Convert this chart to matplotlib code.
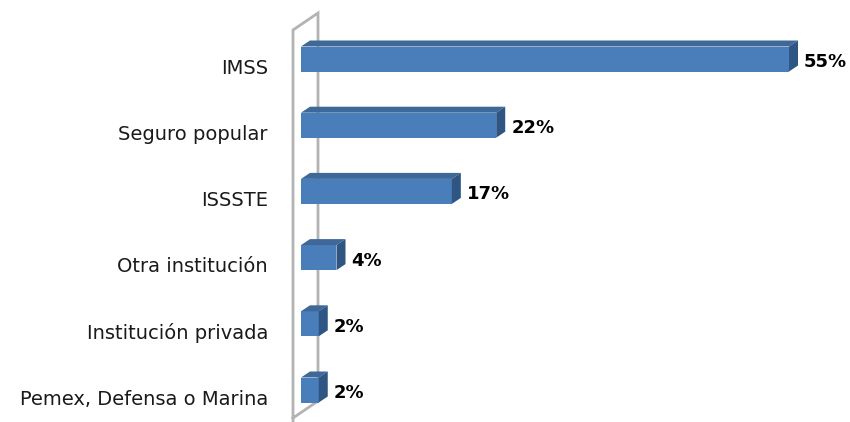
import matplotlib.pyplot as plt
from matplotlib.patches import Polygon

# data
categories = ["IMSS", "Seguro popular", "ISSSTE", "Otra institución",
              "Institución privada", "Pemex, Defensa o Marina"]
values = [55, 22, 17, 4, 2, 2]
value_labels = ["55%", "22%", "17%", "4%", "2%", "2%"]

W, H = 850, 422
X0_PX = 301          # pixel where value 0 sits
PX_PER_PCT = 8.873   # horizontal scale
Y0_PX = 59           # centre of first bar
PX_PER_ROW = 66.2    # row spacing

FRONT = "#4a7ebb"
TOP = "#3d6898"
SIDE = "#2f5582"
WALL = "#b3b3b3"

plt.rcParams["font.family"] = ["DejaVu Sans"]

fig = plt.figure(figsize=(W / 100, H / 100), dpi=100)
ax = fig.add_axes([0, 0, 1, 1])
ax.set_xlim(-X0_PX / PX_PER_PCT, (W - X0_PX) / PX_PER_PCT)
ax.set_ylim(len(categories) - 1 + (H - Y0_PX - (len(categories) - 1) * PX_PER_ROW) / PX_PER_ROW,
            -Y0_PX / PX_PER_ROW)
ax.axis("off")


def px_x(px):
    return (px - X0_PX) / PX_PER_PCT


def px_y(py):
    return (py - Y0_PX) / PX_PER_ROW


# wall (left side of the 3D box)
dx = 9 / PX_PER_PCT
dy = 6 / PX_PER_ROW
ax.plot([px_x(293), px_x(293), px_x(318), px_x(318), px_x(293)],
        [px_y(430), px_y(30), px_y(13), px_y(401), px_y(418)],
        color=WALL, lw=2, solid_joinstyle="miter", zorder=1)

bar_h = 25 / PX_PER_ROW
ypos = list(range(len(categories)))
ax.barh(ypos, values, height=bar_h, color=FRONT, edgecolor="none", zorder=3)

for y, v in zip(ypos, values):
    top = y - bar_h / 2
    bot = y + bar_h / 2
    ax.add_patch(Polygon([(0, top), (dx, top - dy), (v + dx, top - dy), (v, top)],
                         closed=True, facecolor=TOP, edgecolor="none", zorder=3))
    ax.add_patch(Polygon([(v, top), (v + dx, top - dy), (v + dx, bot - dy), (v, bot)],
                         closed=True, facecolor=SIDE, edgecolor="none", zorder=3))

for y, v, lab in zip(ypos, values, value_labels):
    ax.text(v + dx + 6 / PX_PER_PCT, y + 3 / PX_PER_ROW, lab, ha="left", va="center",
            fontsize=13, fontweight="bold", color="black")

for y, cat in zip(ypos, categories):
    ax.text(px_x(268), y + 9 / PX_PER_ROW, cat, ha="right", va="center",
            fontsize=14, color="#1a1a1a")

fig.savefig("out.png", dpi=100)
